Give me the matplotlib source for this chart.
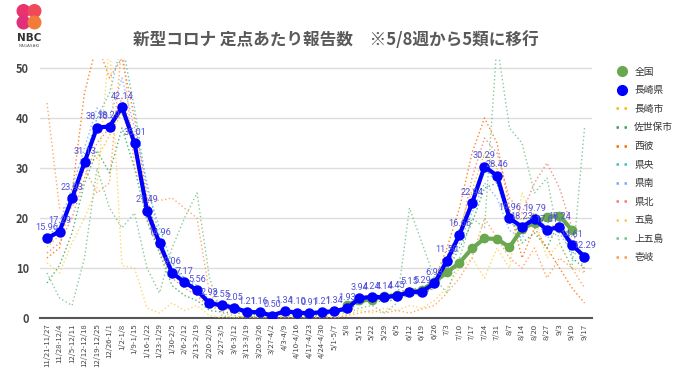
import matplotlib
matplotlib.use("Agg")
import matplotlib.pyplot as plt
from matplotlib.lines import Line2D
from matplotlib.patches import Circle

plt.rcParams['font.family'] = ['Noto Sans CJK JP', 'DejaVu Sans']

weeks = ["11/21-11/27", "11/28-12/4", "12/5-12/11", "12/12-12/18", "12/19-12/25",
         "12/26-1/1", "1/2-1/8", "1/9-1/15", "1/16-1/22", "1/23-1/29", "1/30-2/5",
         "2/6-2/12", "2/13-2/19", "2/20-2/26", "2/27-3/5", "3/6-3/12", "3/13-3/19",
         "3/20-3/26", "3/27-4/2", "4/3-4/9", "4/10-4/16", "4/17-4/23", "4/24-4/30",
         "5/1-5/7", "5/8", "5/15", "5/22", "5/29", "6/5", "6/12", "6/19", "6/26",
         "7/3", "7/10", "7/17", "7/24", "7/31", "8/7", "8/14", "8/20", "8/27",
         "9/3", "9/10", "9/17"]

nagasaki_pref = [15.96, 17.29, 23.93, 31.13, 38.10, 38.29, 42.14, 35.01, 21.49, 14.96,
                 9.06, 7.17, 5.56, 2.93, 2.55, 2.05, 1.21, 1.16, 0.50, 1.34, 1.10, 0.91,
                 1.21, 1.34, 1.93, 3.94, 4.24, 4.14, 4.45, 5.15, 5.29, 6.93, 11.50, 16.66,
                 22.94, 30.29, 28.46, 19.96, 18.23, 19.79, 17.61, 18.24, 14.61, 12.29]

# national values start at 5/8 (index 24) and end at 9/10
national_start = 24
national = [2.63, 3.55, 3.63, 4.33, 4.55, 5.11, 5.60, 7.24, 9.14, 11.04, 13.91, 15.91,
            15.81, 14.16, 17.84, 19.07, 20.19, 20.50, 17.54]

nagasaki_city = [14.2, 16.5, 24.8, 30.5, 32.0, 36.5, 41.0, 34.0, 22.5, 14.0, 8.5, 6.8, 5.2,
                 2.6, 2.3, 1.8, 1.0, 1.0, 0.4, 1.1, 1.0, 0.8, 1.1, 1.2, 1.8, 3.6, 4.0, 3.9,
                 4.1, 4.8, 5.1, 6.6, 12.0, 18.0, 25.5, 33.0, 30.0, 21.0, 19.5, 21.0, 18.0,
                 19.0, 15.5, 11.0]
sasebo = [7.0, 10.5, 17.0, 27.0, 33.5, 29.0, 38.0, 30.0, 19.5, 13.0, 6.5, 4.5, 3.5, 1.5,
          1.2, 1.0, 0.8, 0.6, 0.3, 0.9, 0.6, 0.5, 0.8, 1.0, 1.5, 3.0, 3.5, 3.2, 3.8, 4.5,
          4.8, 6.0, 9.5, 14.0, 19.0, 26.0, 27.0, 21.0, 15.0, 17.0, 14.0, 19.5, 12.0, 10.0]
nishisonogi = [12.0, 14.0, 25.0, 45.0, 55.0, 48.0, 52.0, 40.0, 24.0, 15.0, 9.0, 7.0, 5.0,
               2.5, 2.2, 1.5, 1.0, 1.2, 0.5, 1.0, 1.2, 0.6, 1.0, 1.5, 2.0, 4.5, 4.0, 4.4,
               5.0, 6.0, 5.5, 7.5, 14.0, 22.0, 33.0, 40.0, 35.0, 22.0, 12.0, 18.0, 14.0,
               10.0, 6.0, 3.0]
kenou = [15.0, 18.0, 24.0, 32.0, 40.0, 45.0, 55.0, 42.0, 26.0, 18.0, 11.0, 8.0, 6.0, 3.5,
         3.0, 2.5, 1.5, 1.3, 0.7, 1.6, 1.4, 1.2, 1.5, 1.6, 2.2, 4.2, 4.6, 4.5, 4.8, 5.8,
         6.0, 7.5, 12.5, 17.0, 22.0, 30.0, 27.0, 19.0, 18.0, 21.0, 19.0, 20.0, 15.0, 12.0]
kennan = [16.0, 19.0, 26.0, 34.0, 42.0, 40.0, 48.0, 38.0, 27.0, 16.0, 10.0, 8.0, 6.5, 3.5,
          2.8, 2.2, 1.4, 1.3, 0.6, 1.5, 1.3, 1.0, 1.4, 1.5, 2.4, 4.0, 4.4, 4.0, 4.6, 5.3,
          5.2, 6.8, 10.5, 15.0, 21.0, 27.0, 24.0, 17.5, 16.0, 20.0, 16.0, 17.0, 13.0, 12.5]
kenhoku = [13.0, 15.0, 20.0, 28.0, 35.0, 38.0, 44.0, 36.0, 20.0, 13.5, 8.0, 6.0, 4.5, 2.0,
           2.0, 1.5, 0.9, 0.8, 0.4, 1.0, 0.8, 0.7, 0.9, 1.1, 1.7, 3.5, 3.9, 3.8, 4.0, 4.6,
           4.8, 6.2, 10.0, 16.0, 28.0, 36.0, 33.0, 24.0, 21.0, 27.0, 31.0, 26.0, 18.0, 9.0]
goto = [11.0, 9.0, 15.0, 20.0, 26.0, 55.0, 10.5, 10.0, 2.0, 1.0, 3.0, 1.5, 2.5, 0.5, 0.0,
        0.0, 0.3, 0.0, 0.0, 0.2, 0.0, 0.0, 0.3, 0.0, 0.8, 1.5, 1.0, 2.0, 1.5, 2.5, 2.0, 3.5,
        6.0, 10.0, 12.0, 8.0, 14.0, 10.0, 25.0, 20.0, 12.0, 15.0, 10.0, 9.0]
kamigoto = [9.0, 4.0, 2.5, 12.0, 30.0, 22.0, 18.0, 21.0, 10.0, 5.0, 14.0, 20.0, 25.0, 8.0,
            0.5, 0.0, 0.5, 0.0, 0.5, 1.0, 0.0, 0.5, 0.5, 1.0, 1.0, 2.0, 2.5, 1.0, 3.0, 22.0,
            15.0, 8.0, 5.0, 12.0, 20.0, 18.0, 55.0, 38.0, 35.0, 25.0, 28.0, 15.0, 10.0, 38.0]
iki = [43.0, 22.0, 22.0, 30.0, 25.0, 27.0, 55.0, 30.0, 24.0, 23.5, 24.0, 22.0, 20.0, 5.0,
       1.0, 0.5, 0.0, 0.5, 0.0, 0.5, 0.0, 0.0, 0.5, 0.0, 0.5, 1.0, 1.5, 1.0, 1.5, 1.0, 1.8,
       2.5, 5.0, 8.0, 12.0, 20.0, 16.0, 12.0, 10.0, 14.0, 8.0, 12.0, 10.0, 6.0]

region_names = ["長崎市", "佐世保市", "西彼", "県央", "県南", "県北", "五島", "上五島", "壱岐"]
region_values = [nagasaki_city, sasebo, nishisonogi, kenou, kennan, kenhoku, goto, kamigoto, iki]
region_colors = ["#fbbc04", "#34a853", "#ff6d01", "#46bdc6", "#7baaf7", "#f07b72",
                 "#fcd04f", "#71c287", "#ff994d"]

title = "新型コロナ 定点あたり報告数　※5/8週から5類に移行"

fig = plt.figure(figsize=(6.8, 3.82), dpi=100)
ax = fig.add_axes([40/680, 1-318/382, (592-40)/680, (318-59)/382])

x = list(range(len(weeks)))
for vals, col in zip(region_values, region_colors):
    ax.plot(x, vals, linestyle=(0, (1, 1.8)), color=col, linewidth=1.0, alpha=0.85,
            zorder=2)

xn = list(range(national_start, national_start + len(national)))
ax.plot(xn, national, color="#6aa84f", linewidth=3.0, marker="o", markersize=6, zorder=3)
ax.plot(x, nagasaki_pref, color="#0000ff", linewidth=3.0, marker="o", markersize=6.5, zorder=4)

for xi, v in zip(x, nagasaki_pref):
    ax.annotate(f"{v:.2f}", (xi, v), xytext=(0, 4.5), textcoords="offset points",
                ha="center", va="bottom", fontsize=6.6, color="#5050d8", zorder=5,
                family=['Roboto', 'DejaVu Sans'])

ax.set_xlim(-0.56, 43.6)
ax.set_ylim(0, 51.8)
ax.set_yticks([0, 10, 20, 30, 40, 50])
ax.set_yticklabels(["0", "10", "20", "30", "40", "50"], fontsize=8, color="#444444",
                   fontweight="bold")
ax.grid(axis="y", color="#dddddd", linewidth=1.0)
ax.set_axisbelow(True)
for s in ["top", "right", "left"]:
    ax.spines[s].set_visible(False)
ax.spines["bottom"].set_color("#555555")
ax.spines["bottom"].set_linewidth(1.5)
ax.spines["bottom"].set_zorder(1)
ax.tick_params(axis="y", length=0, pad=8)
ax.set_xticks(x)
ax.set_xticklabels(weeks, rotation=90, fontsize=5.6, color="#444444")
ax.tick_params(axis="x", length=0, pad=4)

fig.text(336/680, 1-40/382, title, ha="center", va="center", fontsize=12,
         fontweight="bold", color="#595959")

# legend
handles = [Line2D([], [], color="#6aa84f", marker="o", linestyle="none", markersize=7),
           Line2D([], [], color="#0000ff", marker="o", linestyle="none", markersize=7)]
for col in region_colors:
    handles.append(Line2D([], [], color=col, linestyle=(0, (1, 2.2)), linewidth=1.8))
labels = ["全国", "長崎県"] + region_names
fig.legend(handles, labels, loc="upper left", bbox_to_anchor=(607/680, 1-58/382),
           frameon=False, fontsize=7, labelspacing=0.88, handlelength=1.3,
           handletextpad=0.6, labelcolor="#333333")

# logo
lax = fig.add_axes([15/680, 1-31/382, 28/680, 28/382])
lax.set_xlim(0, 28)
lax.set_ylim(0, 28)
lax.set_aspect("equal")
lax.axis("off")
for (cx, cy, c) in [(8.5, 20, "#e8336e"), (19.5, 20, "#f04a5a"), (8.5, 8.5, "#e0307a"),
                    (19.5, 8.5, "#f47a3a")]:
    lax.add_patch(Circle((cx, cy), 6.3, color=c))
fig.text(29/680, 1-38/382, "NBC", ha="center", va="center", fontsize=7.5,
         fontweight="bold", color="#333333", family=['DejaVu Sans'])
fig.text(29/680, 1-46/382, "NAGASAKI", ha="center", va="center", fontsize=3,
         color="#555555", family=['DejaVu Sans'])

fig.savefig("out.png", dpi=100)
